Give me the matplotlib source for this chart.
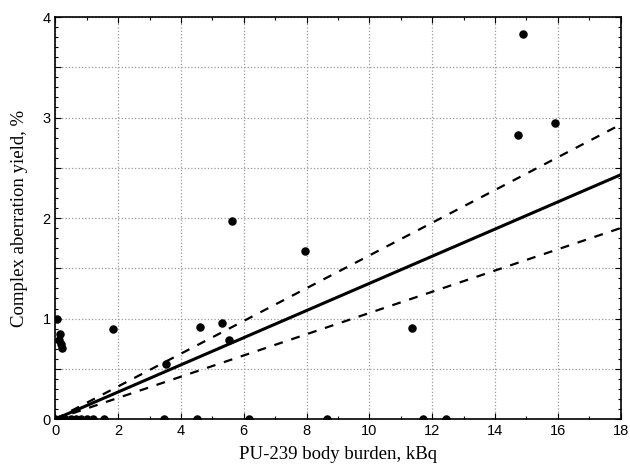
import matplotlib.pyplot as plt
from matplotlib.ticker import MultipleLocator, FuncFormatter

# measured points (body burden kBq, complex aberration yield %)
dose = [0.05, 0.15, 0.1, 0.22, 0.18, 1.82, 3.52, 4.6, 5.3, 5.52, 5.62,
        7.96, 11.35, 14.73, 14.9, 15.9]
yield_pct = [1.0, 0.85, 0.79, 0.71, 0.75, 0.9, 0.55, 0.92, 0.96, 0.79, 1.97,
             1.67, 0.91, 2.83, 3.83, 2.95]

# cases with zero yield
dose_zero = [0.0, 0.15, 0.3, 0.5, 0.65, 0.8, 1.0, 1.2, 1.55, 3.45, 4.5,
             6.15, 8.65, 11.7, 12.45]
yield_zero = [0.0] * len(dose_zero)

# regression line through origin and 95% bands (endpoints)
fit_x = [0, 18]
fit_y = [0, 2.43]
upper_y = [0, 2.93]
lower_y = [0, 1.90]

plt.rcParams['font.family'] = ['Liberation Sans', 'DejaVu Sans']

fig = plt.figure(figsize=(6.3, 4.73), dpi=100)
ax = fig.add_axes([0.088, 0.114, 0.897, 0.850])

ax.plot(fit_x, fit_y, color='black', lw=2.2, zorder=3)
ax.plot(fit_x, upper_y, color='black', lw=1.6, ls=(0, (4, 4)), zorder=3)
ax.plot(fit_x, lower_y, color='black', lw=1.6, ls=(0, (4, 4)), zorder=3)

ax.scatter(dose, yield_pct, s=26, color='black', zorder=4)
ax.scatter(dose_zero, yield_zero, s=26, color='black', zorder=4)

ax.set_xlim(0, 18)
ax.set_ylim(0, 4)
ax.xaxis.set_major_locator(MultipleLocator(2))
ax.xaxis.set_minor_locator(MultipleLocator(1))
ax.yaxis.set_major_locator(MultipleLocator(0.5))
ax.yaxis.set_minor_locator(MultipleLocator(0.1))
ax.yaxis.set_major_formatter(FuncFormatter(
    lambda v, p: '%d' % v if abs(v - round(v)) < 1e-6 else ''))

ax.grid(True, which='major', color='#999999', ls=':', lw=0.9)
ax.tick_params(which='both', direction='in', top=True, right=True,
               labelsize=10.5, width=0.8)
ax.tick_params(which='major', length=4)
ax.tick_params(which='minor', length=2.5)
for s in ax.spines.values():
    s.set_linewidth(1.2)

ax.set_xlabel('PU-239 body burden, kBq', family='Liberation Serif',
              fontsize=13.5, labelpad=6)
ax.set_ylabel('Complex aberration yield, %', family='Liberation Serif',
              fontsize=13.5, labelpad=10)

fig.savefig('out.png', dpi=100)
